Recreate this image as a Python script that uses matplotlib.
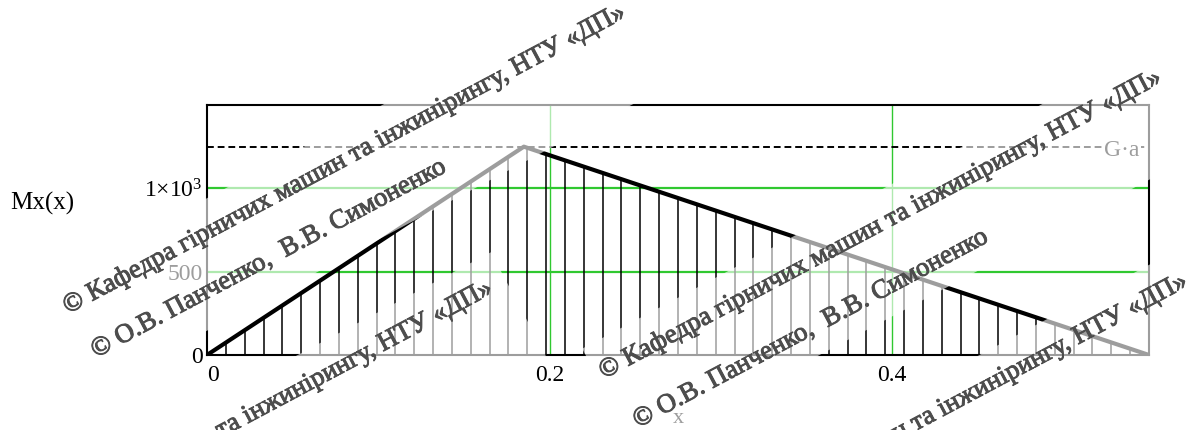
import numpy as np
import matplotlib
matplotlib.use('Agg')
import matplotlib.pyplot as plt
import matplotlib.patheffects as pe
from matplotlib.patches import Polygon
from matplotlib.transforms import IdentityTransform

# епюра згинального моменту Mx(x)
beam_x = [0.0, 0.185, 0.55]
beam_m = [0.0, 1250.0, 0.0]
G_a = 1250.0

# штрихування епюри (x := 0, 0.011 .. 0.55)
hatch_x = [0.000, 0.011, 0.022, 0.033, 0.044, 0.055, 0.066, 0.077, 0.088, 0.099,
           0.110, 0.121, 0.132, 0.143, 0.154, 0.165, 0.176, 0.187, 0.198, 0.209,
           0.220, 0.231, 0.242, 0.253, 0.264, 0.275, 0.286, 0.297, 0.308, 0.319,
           0.330, 0.341, 0.352, 0.363, 0.374, 0.385, 0.396, 0.407, 0.418, 0.429,
           0.440, 0.451, 0.462, 0.473, 0.484, 0.495, 0.506, 0.517, 0.528, 0.539, 0.550]
hatch_m = [0, 74, 149, 223, 297, 372, 446, 520, 595, 669,
           743, 818, 892, 966, 1041, 1115, 1189, 1243, 1205, 1168,
           1130, 1092, 1055, 1017, 979, 942, 904, 866, 829, 791,
           753, 716, 678, 640, 603, 565, 527, 490, 452, 414,
           377, 339, 301, 264, 226, 188, 151, 113, 75, 38, 0]

x_ticks = [0, 0.2, 0.4]
x_labels = ['0', '0.2', '0.4']
y_ticks = [0, 500, 1000]
y_labels = ['0', '500', '1×10$^{3}$']

wm_dept = '© Кафедра гірничих машин та інжинірингу, НТУ «ДП»'
wm_auth = '© О.В. Панченко,  В.В. Симоненко'

W, H = 1193, 430
plt.rcParams['font.family'] = ['Liberation Serif', 'DejaVu Serif']
plt.rcParams['mathtext.fontset'] = 'custom'
plt.rcParams['mathtext.rm'] = 'Liberation Serif'
plt.rcParams['mathtext.it'] = 'Liberation Serif:italic'

fig = plt.figure(figsize=(W / 100, H / 100), dpi=100)
ax = fig.add_axes([207 / W, 1 - 355 / H, 942 / W, 250 / H])
ax.set_xlim(0, 0.55)
ax.set_ylim(0, 1500)

green = '#30c830'
for v in [500, 1000]:
    ax.axhline(v, color=green, lw=1.6, zorder=1)
for v in [0.2, 0.4]:
    ax.axvline(v, color=green, lw=1.0, zorder=1)

ax.vlines(hatch_x, 0, hatch_m, color='k', lw=1.1, zorder=2)
ax.axhline(G_a, color='k', lw=1.4, ls=(0, (3.5, 2)), zorder=2)
ax.plot(beam_x, beam_m, color='k', lw=3.0, zorder=3)
ax.text(0.5445, G_a - 20, 'G·a', ha='right', va='center', fontsize=17, color='k',
        bbox=dict(fc='white', ec='none', pad=1), zorder=4)

for s in ax.spines.values():
    s.set_linewidth(1.5)
    s.set_color('k')
ax.set_xticks(x_ticks, x_labels, fontsize=17)
ax.set_yticks(y_ticks, y_labels, fontsize=17)
ax.get_xticklabels()[0].set_ha('left')
ax.tick_params(length=0)
ax.tick_params(axis='x', pad=7)
ax.tick_params(axis='y', pad=3)

fig.text(42 / W, 1 - 210 / H, 'Mx(x)', ha='center', va='baseline', fontsize=18)
fig.text(678 / W, 1 - 423 / H, 'x', ha='center', va='baseline', fontsize=16)

# водяний знак: підбираємо кегль під довжину рядка
probe = fig.text(0, 0, wm_dept, fontsize=20)
w20 = probe.get_window_extent(renderer=fig.canvas.get_renderer()).width
probe.remove()
wm_len = 635
wm_size = 20 * wm_len / w20

ang = np.deg2rad(28)
u = np.array([np.cos(ang), np.sin(ang)])
n = np.array([np.sin(ang), -np.cos(ang)])
wm_color = '#4d4d4d'


def band(x0, y0):
    p0 = np.array([x0, H - y0])
    pts = [p0 + a * u + b * n for a, b in [(-5, -37), (wm_len + 15, -37),
                                           (wm_len + 15, 80), (-5, 80)]]
    fig.add_artist(Polygon(pts, closed=True, transform=IdentityTransform(),
                           fc='white', ec='none', alpha=0.62, zorder=5))


def mark(x0, y0, s, ha='left'):
    fig.text(x0 / W, 1 - y0 / H, s, rotation=28, rotation_mode='anchor',
             ha=ha, va='baseline', fontsize=wm_size, color=wm_color, zorder=6,
             path_effects=[pe.withStroke(linewidth=0.7, foreground=wm_color)])


# блоки з двома рядками
for (x1, y1), (x2, y2) in [((68, 314), (96, 358)), ((604, 379), (638, 428))]:
    band(x1, y1)
    mark(x1, y1, wm_dept)
    mark(x2, y2, wm_auth)

# рядки, що починаються за межами рисунка
for xe, ye in [(495, 292), (1190, 285)]:
    band(xe - wm_len * u[0], ye + wm_len * u[1])
    mark(xe, ye, wm_dept, ha='right')

fig.savefig('out.png', dpi=100)
